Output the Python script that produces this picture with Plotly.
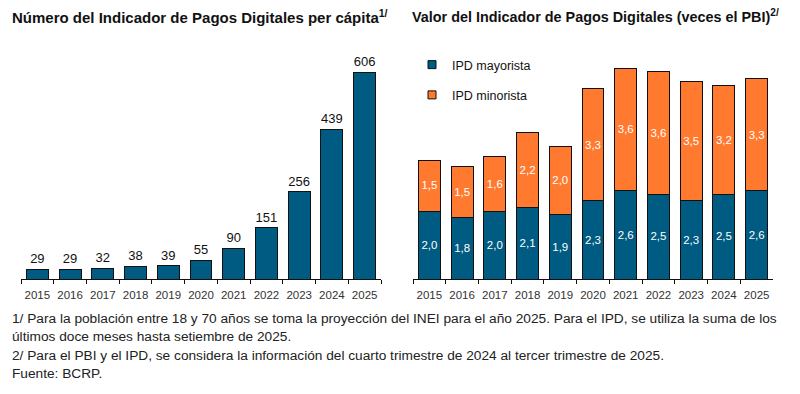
import plotly.graph_objects as go

years = ["2015", "2016", "2017", "2018", "2019", "2020", "2021", "2022", "2023", "2024", "2025"]
ipd_per_capita = [29, 29, 32, 38, 39, 55, 90, 151, 256, 439, 606]
ipd_mayorista = [2.0, 1.8, 2.0, 2.1, 1.9, 2.3, 2.6, 2.5, 2.3, 2.5, 2.6]
ipd_minorista = [1.5, 1.5, 1.6, 2.2, 2.0, 3.3, 3.6, 3.6, 3.5, 3.2, 3.3]

BLUE = "#005b82"
ORANGE = "#ff7a2f"
FONT = "Liberation Sans, Arial, sans-serif"

# the page body adds an 8px margin, so the figure is drawn slightly smaller
OFF = 8
W, H = 800 - 2 * OFF, 394 - 2 * OFF


def px(x):
    return (x - OFF) / W


def py(y):
    return 1 - (y - OFF) / H


fig = go.Figure()

# left panel: number per capita
fig.add_trace(go.Bar(
    x=years, y=ipd_per_capita, width=0.67,
    marker=dict(color=BLUE, line=dict(color="#111", width=1)),
    text=ipd_per_capita, textposition="outside", cliponaxis=False,
    textfont=dict(size=13, color="#111"),
    showlegend=False, xaxis="x", yaxis="y",
))

# right panel: stacked value
fig.add_trace(go.Bar(
    x=years, y=ipd_mayorista, width=0.67, name="IPD mayorista",
    marker=dict(color=BLUE, line=dict(color="#111", width=1)),
    texttemplate="%{y:.1f}", textposition="inside", insidetextanchor="middle",
    textfont=dict(size=13, color="white"), textangle=0,
    showlegend=False, xaxis="x2", yaxis="y2",
))
fig.add_trace(go.Bar(
    x=years, y=ipd_minorista, width=0.67, name="IPD minorista",
    marker=dict(color=ORANGE, line=dict(color="#111", width=1)),
    texttemplate="%{y:.1f}", textposition="inside", insidetextanchor="middle",
    textfont=dict(size=13, color="white"), textangle=0,
    showlegend=False, xaxis="x2", yaxis="y2",
))

# legend markers
for name, col in [("IPD mayorista", BLUE), ("IPD minorista", ORANGE)]:
    fig.add_trace(go.Scatter(
        x=[None], y=[None], mode="markers", name=name, legendgroup=name,
        marker=dict(symbol="square", size=8, color=col, line=dict(color="#111", width=1)),
        xaxis="x2", yaxis="y2",
    ))

xax = dict(
    type="category", showline=True, linecolor="#111", linewidth=1,
    ticks="outside", tickson="boundaries", ticklen=4, tickcolor="#111",
    tickangle=0, tickfont=dict(size=11.5, color="#333"), ticklabelstandoff=5,
    showgrid=False, fixedrange=True,
)
ydom = [py(279), py(54)]

fig.update_layout(
    width=W, height=H,
    margin=dict(l=0, r=0, t=0, b=0),
    paper_bgcolor="white", plot_bgcolor="white",
    font=dict(family=FONT, color="#111"),
    separators=",.",
    barmode="stack",
    xaxis=dict(xax, domain=[px(21), px(381)], range=[-0.5, 10.5]),
    yaxis=dict(domain=ydom, range=[0, 660], visible=False),
    xaxis2=dict(xax, domain=[px(413), px(773)], range=[-0.5, 10.5]),
    yaxis2=dict(domain=ydom, range=[0, 6.62], visible=False, anchor="x2"),
    legend=dict(
        x=px(412), y=py(50), xanchor="left", yanchor="top",
        font=dict(size=12.5, color="#111"), traceorder="grouped",
        tracegroupgap=11, itemwidth=30, bgcolor="rgba(0,0,0,0)",
    ),
    showlegend=True,
)

notes = [
    (318, "1/ Para la población entre 18 y 70 años se toma la proyección del INEI para el año 2025. Para el IPD, se utiliza la suma de los"),
    (336, "últimos doce meses hasta setiembre de 2025."),
    (355, "2/ Para el PBI y el IPD, se considera la información del cuarto trimestre de 2024 al tercer trimestre de 2025."),
    (373, "Fuente: BCRP."),
]
for yy, txt in notes:
    fig.add_annotation(
        text=txt, xref="paper", yref="paper", x=px(10), y=py(yy),
        xanchor="left", yanchor="middle", showarrow=False,
        font=dict(size=13.7, color="#222"),
    )

titles = [
    (10, 15, "<b>Número del Indicador de Pagos Digitales per cápita</b><sup><b>1/</b></sup>"),
    (410, 14.4, "<b>Valor del Indicador de Pagos Digitales (veces el PBI)</b><sup><b>2/</b></sup>"),
]
for xx, size, txt in titles:
    fig.add_annotation(
        text=txt, xref="paper", yref="paper", x=px(xx), y=py(16),
        xanchor="left", yanchor="middle", showarrow=False,
        font=dict(size=size, color="#111"),
    )

fig.write_html("out.html")
